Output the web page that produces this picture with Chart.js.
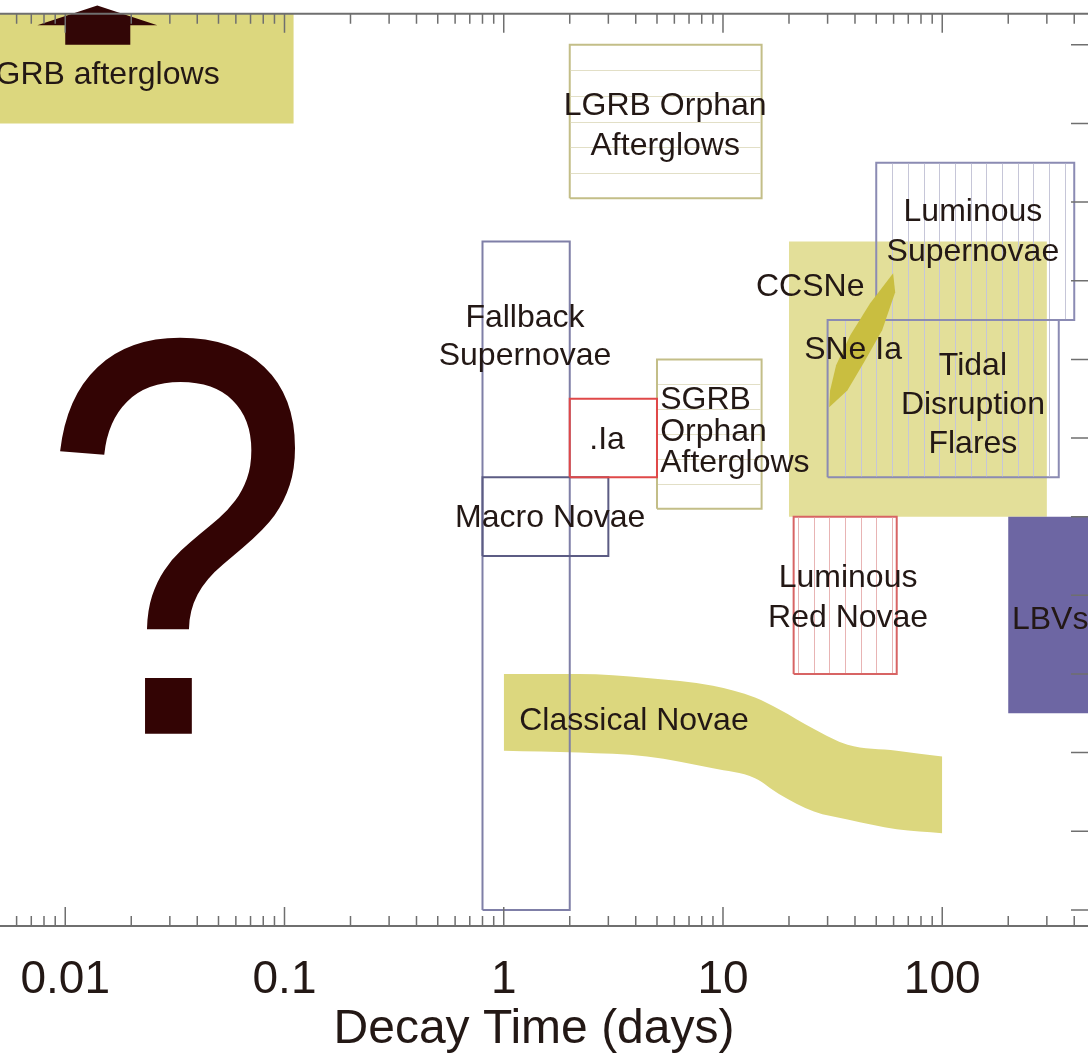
<!DOCTYPE html>
<html>
<head>
<meta charset="utf-8">
<script src="https://cdn.jsdelivr.net/npm/chart.js@4"></script>
<style>
  html, body { margin: 0; padding: 0; background: #fff; overflow: hidden; }
  #wrap { position: relative; width: 1088px; height: 1054px; overflow: hidden; }
  #wrap canvas { position: absolute; left: -60px; top: 0; }
</style>
</head>
<body>
<div id="wrap"><canvas id="chart" width="1200" height="1054" style="width:1200px;height:1054px"></canvas></div>
<script>
// decay time (days) on x, peak magnitude M_V on y
const xTicks = [0.01, 0.1, 1, 10, 100];
const xTickLabels = ['0.01', '0.1', '1', '10', '100'];
const yTicks = [-4, -6, -8, -10, -12, -14, -16, -18, -20, -22, -24, -26];
const yTopAxis = -26.79; // upper frame of the plot

// boxes: [tMin, tMax, magFaint, magBright]
const grbAfterglows = [0.001, 0.11, -24.0, -26.79];
const lgrbOrphan = [2, 15, -22.1, -26];
const luminousSN = [50, 400, -19, -23];
const ccsne = [20, 300, -14, -21];
const tidalFlares = [30, 340, -15, -19];
const fallbackSN = [0.8, 2, -4, -21];
const macroNovae = [0.8, 3, -13, -15];
const dotIa = [2, 5, -15, -17];
const sgrbOrphan = [5, 15, -14.2, -18];
const redNovae = [21, 62, -10, -14];
const lbvs = [200, 1000, -9, -14];

// classical novae band
const novaeT = [1, 2.2, 4.5, 9, 14, 18, 26, 37, 62, 100];
const novaeBright = [-10.0, -10.0, -9.9, -9.7, -9.4, -9.1, -8.6, -8.2, -8.05, -7.9];
const novaeFaint = [-8.05, -8.0, -7.9, -7.6, -7.35, -6.95, -6.5, -6.3, -6.05, -5.95];

// SNe Ia (width-luminosity) band outline
const sneIaT = [30.5, 30.8, 32.8, 38.0, 46.9, 59.7, 61.0, 53.2, 44.0, 36.9, 30.5];
const sneIaMag = [-16.78, -17.21, -17.85, -18.61, -19.43, -20.19, -19.71, -18.74, -17.93, -17.21, -16.78];

// arrow at the top-left
const arrowT = [0.014, 0.0263, 0.0198, 0.0198, 0.01, 0.01, 0.00746, 0.014];
const arrowMag = [-27.0, -26.5, -26.5, -26.0, -26.0, -26.5, -26.5, -27.0];

const FONT = "'Liberation Sans', Helvetica, Arial, sans-serif";
const INK = '#231815';

const annotations = [
  { lines: ['GRB afterglows'], t: 0.0156, m: -25.24 },
  { lines: ['LGRB Orphan', 'Afterglows'], t: 5.45, m: -23.94, lh: 40 },
  { lines: ['Luminous', 'Supernovae'], t: 138, m: -21.24, lh: 40 },
  { lines: ['CCSNe'], t: 25.0, m: -19.84 },
  { lines: ['Fallback', 'Supernovae'], t: 1.25, m: -18.56, lh: 38 },
  { lines: ['SNe Ia'], t: 39.2, m: -18.23 },
  { lines: ['Tidal', 'Disruption', 'Flares'], t: 138, m: -16.83, lh: 39 },
  { lines: ['.Ia'], t: 2.96, m: -15.94 },
  { lines: ['SGRB', 'Orphan', 'Afterglows'], t: 5.17, m: -16.15, lh: 31.5, align: 'left' },
  { lines: ['Macro Novae'], t: 1.63, m: -13.96 },
  { lines: ['Luminous', 'Red Novae'], t: 37.2, m: -11.94, lh: 40 },
  { lines: ['LBVs'], t: 208, m: -11.36, align: 'left' },
  { lines: ['Classical Novae'], t: 1.177, m: -8.81, align: 'left' }
];
const bigMark = { text: '?', t: 0.0322, m: -8.48 };

function boxPts(b) {
  return [
    { x: b[0], y: b[2] }, { x: b[1], y: b[2] }, { x: b[1], y: b[3] },
    { x: b[0], y: b[3] }, { x: b[0], y: b[2] }
  ];
}
function pts(xs, ys) { return xs.map((x, i) => ({ x: x, y: ys[i] })); }

function filled(data, color) {
  return { data: data, showLine: true, fill: 'shape', backgroundColor: color,
           borderWidth: 0, pointRadius: 0, tension: 0 };
}
function outline(b, color, hatch, hatchColor) {
  return { data: boxPts(b), showLine: true, fill: false, borderColor: color,
           borderWidth: 2, pointRadius: 0, tension: 0,
           box: b, hatch: hatch, hatchColor: hatchColor };
}

const YELLOW = '#dcd77e';
const datasets = [
  filled(boxPts(ccsne), '#e3df99'),
  filled(boxPts(grbAfterglows), YELLOW),
  { data: pts(novaeT, novaeBright), showLine: true, fill: '+1', backgroundColor: YELLOW,
    borderWidth: 0, pointRadius: 0, tension: 0.4, cubicInterpolationMode: 'monotone' },
  { data: pts(novaeT, novaeFaint), showLine: true, fill: false,
    borderWidth: 0, pointRadius: 0, tension: 0.4, cubicInterpolationMode: 'monotone' },
  filled(boxPts(lbvs), '#6d66a3'),
  outline(lgrbOrphan, '#c3be88', 'h', '#e2dfc6'),
  outline(sgrbOrphan, '#c3be88', 'h', '#e2dfc6'),
  outline(fallbackSN, '#7f7fa7'),
  outline(macroNovae, '#5c5c84'),
  outline(dotIa, '#e04848'),
  outline(luminousSN, '#8b8bb3', 'v', '#c6c6d8'),
  outline(tidalFlares, '#8b8bb3', 'v', '#c6c6d8'),
  outline(redNovae, '#d86464', 'v', '#e8b4b4'),
  filled(pts(sneIaT, sneIaMag), '#c9be40'),
  Object.assign(filled(pts(arrowT, arrowMag), '#320606'), { frameBefore: true })
];
// first in the list is drawn first (underneath)
datasets.forEach((d, i) => { d.order = datasets.length - i; });

const AXIS = '#6f6f6f';

const framePlugin = {
  id: 'frame',
  beforeDatasetDraw(chart, args) {
    if (!chart.data.datasets[args.index].frameBefore) return;
    const { ctx, chartArea: a, scales: { x, y } } = chart;
    const top = y.getPixelForValue(yTopAxis);
    ctx.save();
    ctx.strokeStyle = AXIS;
    ctx.lineWidth = 2;
    ctx.beginPath();
    ctx.moveTo(a.left, top); ctx.lineTo(a.right, top);
    ctx.stroke();
    ctx.lineWidth = 1.5;
    ctx.beginPath();
    for (let k = -3; k <= 2; k++) {
      for (let m = 1; m <= 9; m++) {
        const v = m * Math.pow(10, k);
        if (v < x.min || v > x.max) continue;
        const px = x.getPixelForValue(v);
        const len = m === 1 ? 19 : 10;
        ctx.moveTo(px, top); ctx.lineTo(px, top + len);
        ctx.moveTo(px, a.bottom); ctx.lineTo(px, a.bottom - len);
      }
    }
    yTicks.forEach(v => {
      const py = y.getPixelForValue(v);
      ctx.moveTo(a.right, py); ctx.lineTo(a.right - 19, py);
    });
    ctx.stroke();
    ctx.restore();
  }
};

const hatchPlugin = {
  id: 'hatch',
  afterDatasetDraw(chart, args) {
    const ds = chart.data.datasets[args.index];
    if (!ds.hatch) return;
    const { ctx, scales: { x, y } } = chart;
    const l = x.getPixelForValue(ds.box[0]), r = x.getPixelForValue(ds.box[1]);
    const t = Math.min(y.getPixelForValue(ds.box[2]), y.getPixelForValue(ds.box[3]));
    const b = Math.max(y.getPixelForValue(ds.box[2]), y.getPixelForValue(ds.box[3]));
    ctx.save();
    ctx.strokeStyle = ds.hatchColor;
    ctx.lineWidth = 1;
    ctx.beginPath();
    if (ds.hatch === 'v') {
      const step = 15.7, phase = 905;
      let k = Math.ceil((l + 3 - phase) / step);
      for (let px = phase + k * step; px < r - 3; px += step) {
        ctx.moveTo(Math.round(px) + 0.5, t + 1); ctx.lineTo(Math.round(px) + 0.5, b - 1);
      }
    } else {
      for (let i = 1; i < 6; i++) {
        const py = Math.round(t + (b - t) * i / 6) + 0.5;
        ctx.moveTo(l + 1, py); ctx.lineTo(r - 1, py);
      }
    }
    ctx.stroke();
    ctx.restore();
  }
};

const labelPlugin = {
  id: 'labels',
  afterDatasetsDraw(chart) {
    const { ctx, scales: { x, y } } = chart;
    ctx.save();
    ctx.fillStyle = INK;
    ctx.font = '32px ' + FONT;
    ctx.textBaseline = 'middle';
    annotations.forEach(an => {
      const px = x.getPixelForValue(an.t), py = y.getPixelForValue(an.m);
      const lh = an.lh || 0;
      ctx.textAlign = an.align || 'center';
      an.lines.forEach((s, i) => {
        ctx.fillText(s, px, py + (i - (an.lines.length - 1) / 2) * lh);
      });
    });
    // big question mark, a little narrower and taller than the font's own
    ctx.fillStyle = '#330404';
    ctx.font = '540px ' + FONT;
    ctx.textAlign = 'center';
    ctx.textBaseline = 'alphabetic';
    ctx.translate(x.getPixelForValue(bigMark.t), y.getPixelForValue(bigMark.m));
    ctx.scale(0.91, 1.05);
    ctx.fillText(bigMark.text, 0, 0);
    ctx.restore();
  }
};

new Chart(document.getElementById('chart'), {
  type: 'scatter',
  data: { datasets: datasets },
  options: {
    responsive: false,
    animation: false,
    devicePixelRatio: 1,
    layout: { padding: { left: 38, right: 50, top: 0, bottom: 0 } },
    plugins: { legend: { display: false }, tooltip: { enabled: false } },
    scales: {
      x: {
        type: 'logarithmic',
        min: 0.004,
        max: 472,
        afterBuildTicks: s => { s.ticks = xTicks.map(v => ({ value: v })); },
        ticks: {
          callback: (v, i) => xTickLabels[i],
          color: INK,
          font: { family: FONT, size: 46, lineHeight: 1 },
          padding: 31,
          autoSkip: false,
          maxRotation: 0
        },
        grid: { display: false, drawTicks: false },
        border: { display: true, color: AXIS, width: 2 },
        title: {
          display: true,
          text: 'Decay Time (days)',
          color: INK,
          font: { family: FONT, size: 48, lineHeight: 1 },
          padding: { top: -28, bottom: 0 }
        }
      },
      y: {
        type: 'linear',
        min: -27.14,
        max: -3.59,
        reverse: true,
        display: false
      }
    }
  },
  plugins: [framePlugin, hatchPlugin, labelPlugin]
});
</script>
</body>
</html>
